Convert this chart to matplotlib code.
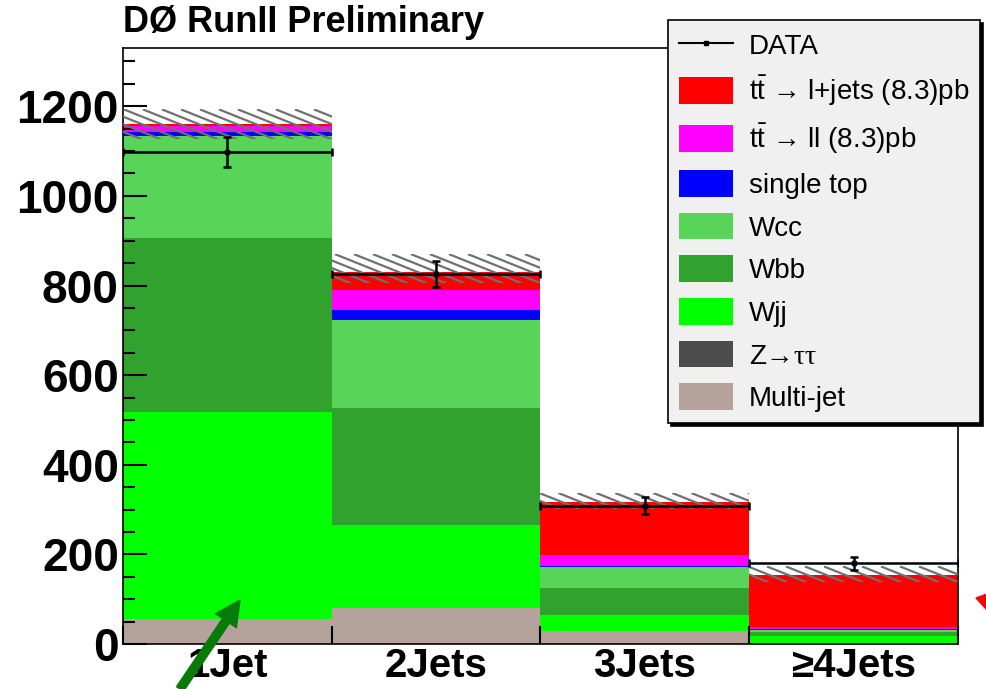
import numpy as np
import matplotlib
matplotlib.use("Agg")
import matplotlib.pyplot as plt
from matplotlib.patches import Rectangle, Patch, Polygon
from matplotlib.lines import Line2D
from matplotlib.ticker import MultipleLocator

plt.rcParams["font.family"] = ["Liberation Sans", "DejaVu Sans"]
plt.rcParams["mathtext.fontset"] = "custom"
plt.rcParams["mathtext.rm"] = "Liberation Sans"
plt.rcParams["mathtext.it"] = "Liberation Serif"

# Jet multiplicity bins
bins = ["1Jet", "2Jets", "3Jets", "≥4Jets"]

# Stacked expectations (events), bottom to top
multijet = [56, 81, 29, 2]
ztautau = [0, 0, 0, 0]
wjj = [462, 185, 36, 15]
wbb = [389, 261, 61, 9]
wcc = [226, 197, 45, 6]
single_top = [9, 21, 4, 2]
tt_ll = [14, 46, 24, 4]
tt_ljets = [4, 39, 117, 116]

# Observed data
data = [1098, 826, 309, 180]
data_err = [33, 29, 18, 15]

# Systematic band on the total prediction
band_lo = [1126, 805, 302, 138]
band_hi = [1193, 870, 337, 173]

stack = [
    (multijet, "#b5a29a", r"Multi-jet"),
    (ztautau, "#4c4c4c", r"Z→$\tau\tau$"),
    (wjj, "#00ff00", "Wjj"),
    (wbb, "#31a22e", "Wbb"),
    (wcc, "#58d458", "Wcc"),
    (single_top, "#0000ff", "single top"),
    (tt_ll, "#ff00ff", r"$\mathrm{t\bar{t}}$ → ll (8.3)pb"),
    (tt_ljets, "#ff0000", r"$\mathrm{t\bar{t}}$ → l+jets (8.3)pb"),
]

W, H = 987, 689
fig = plt.figure(figsize=(W / 100, H / 100), dpi=100)
ax = fig.add_axes([123 / W, 45 / H, 835 / W, 596 / H])

x = np.arange(len(bins))
ax.set_xlim(-0.5, len(bins) - 0.5)
ax.set_ylim(0, 1330)

bottom = np.zeros(len(bins))
for vals, color, label in stack:
    ax.bar(x, vals, width=1.0, bottom=bottom, color=color, linewidth=0, zorder=1)
    bottom += np.array(vals)


def hatch_band(ax, x0, x1, lo, hi, spacing_px=19, slope=0.4):
    clip = Rectangle((x0, lo), x1 - x0, hi - lo, fill=False, linewidth=0)
    ax.add_patch(clip)
    (px0, py0), (px1, py1) = ax.transData.transform([(0, 0), (1, 1)])
    sx, sy = px1 - px0, py1 - py0
    m = slope * sx / sy  # y units dropped per x unit
    run = (hi - lo) / m
    for xs in np.arange(x0 - run, x1, spacing_px / sx):
        ln, = ax.plot([xs, xs + run], [hi, lo], color="#707070", lw=1.6,
                      solid_capstyle="butt", zorder=3)
        ln.set_clip_path(clip)


for i in range(len(bins)):
    hatch_band(ax, i - 0.5, i + 0.5, band_lo[i], band_hi[i])

ax.errorbar(x, data, xerr=0.5, yerr=data_err, fmt="s", color="k", ms=3,
            elinewidth=1.8, capsize=3, capthick=1.8, zorder=4)

# Axes styling
for sp in ax.spines.values():
    sp.set_linewidth(1.2)
ax.yaxis.set_major_locator(MultipleLocator(200))
ax.yaxis.set_minor_locator(MultipleLocator(50))
ax.tick_params(axis="y", which="major", direction="in", length=17, width=1.5,
               labelsize=33, pad=3)
ax.tick_params(axis="y", which="minor", direction="in", length=8.5, width=1.5)
for lab in ax.get_yticklabels():
    lab.set_fontweight("bold")

ax.set_xticks(np.arange(len(bins) + 1) - 0.5)
ax.set_xticklabels([])
ax.tick_params(axis="x", which="major", direction="in", length=13, width=1.5)
ax.set_xticks(x, minor=True)
ax.set_xticklabels(bins, minor=True, fontsize=29, fontweight="bold")
ax.tick_params(axis="x", which="minor", length=0, pad=2)

fig.text(123 / W, 1 - 22 / H, "DØ RunII Preliminary", fontsize=26,
         fontweight="bold", va="center", ha="left")

# Legend
handles = [Line2D([], [], color="k", marker="s", ms=3, lw=1.5)]
labels = ["DATA"]
for vals, color, label in reversed(stack):
    handles.append(Patch(facecolor=color, edgecolor="none"))
    labels.append(label)
leg = ax.legend(handles, labels, loc="upper left",
                bbox_to_anchor=(668 / W, 1 - 20 / H), bbox_transform=fig.transFigure,
                fontsize=20, handlelength=1.95, handleheight=1.1, labelspacing=0.5,
                handletextpad=0.55, borderpad=0.4, borderaxespad=0,
                fancybox=False, framealpha=1, facecolor="#f0f0f0", edgecolor="k",
                shadow={"color": "k", "alpha": 1})
leg.get_frame().set_linewidth(1.2)
leg.set_zorder(10)

# Annotation marks
ax.annotate("", xy=(240, H - 600), xytext=(180, 0), xycoords="figure pixels",
            textcoords="figure pixels",
            arrowprops=dict(color="#087a08", width=6, headwidth=18, headlength=18))
fig.patches.append(Polygon([(976 / W, 1 - 598 / H), (987 / W, 1 - 594 / H),
                            (987 / W, 1 - 610 / H)], closed=True, color="#ff0000",
                           transform=fig.transFigure, figure=fig))

fig.savefig("out.png", dpi=100)
